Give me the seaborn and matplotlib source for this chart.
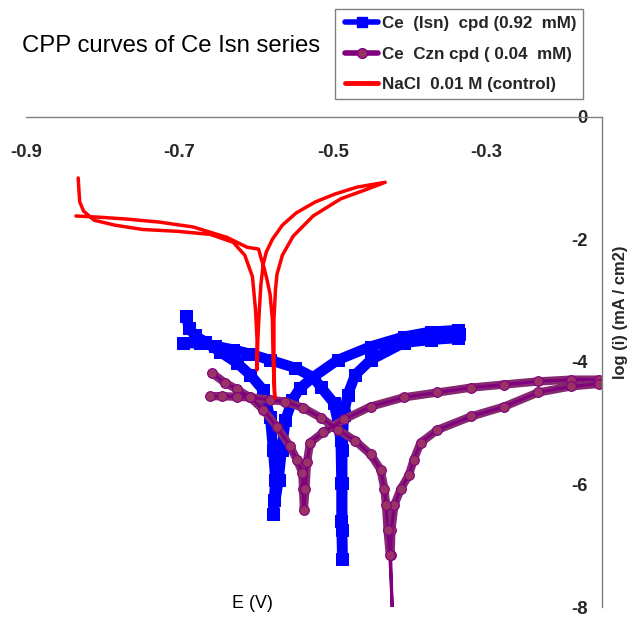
import matplotlib
matplotlib.use("Agg")
import matplotlib.pyplot as plt
from matplotlib.lines import Line2D
from matplotlib.patches import Rectangle
from matplotlib import font_manager
import seaborn as sns
import numpy as np

# ---------------- data ----------------
series_labels = ["Ce  (Isn)  cpd (0.92  mM)", "Ce  Czn cpd ( 0.04  mM)", "NaCl  0.01 M (control)"]

# NaCl 0.01 M (control)
red_E = [-0.832, -0.831, -0.830, -0.825, -0.811, -0.784, -0.748, -0.703, -0.660, -0.630,
         -0.615, -0.605, -0.601, -0.599, -0.599, -0.598, -0.596, -0.594, -0.591, -0.587,
         -0.579, -0.566, -0.548, -0.523, -0.497, -0.469, -0.432,
         -0.455, -0.490, -0.526, -0.552, -0.566, -0.573, -0.575, -0.577, -0.577, -0.576,
         -0.578, -0.579, -0.582, -0.586, -0.590, -0.594, -0.597, -0.612, -0.638, -0.682,
         -0.726, -0.769, -0.804, -0.835]
red_logi = [-1.00, -1.21, -1.39, -1.54, -1.69, -1.77, -1.84, -1.87, -1.92, -2.05,
            -2.26, -2.61, -3.15, -3.64, -4.13, -3.64, -3.15, -2.74, -2.41, -2.21,
            -2.00, -1.77, -1.57, -1.39, -1.26, -1.15, -1.07,
            -1.18, -1.34, -1.62, -1.95, -2.26, -2.57, -2.82, -3.31, -3.97, -4.59,
            -3.97, -3.31, -2.90, -2.66, -2.46, -2.30, -2.16, -2.13, -1.97, -1.80,
            -1.72, -1.67, -1.64, -1.62]

# Ce (Isn) cpd 0.92 mM
blue_E = [-0.691, -0.688, -0.680, -0.667, -0.647, -0.625, -0.608, -0.591, -0.582, -0.578,
          -0.575, -0.577, -0.578, -0.571, -0.567, -0.562, -0.553, -0.543, -0.526, -0.494,
          -0.451, -0.408, -0.373, -0.337, -0.336, -0.337, -0.373, -0.408, -0.451, -0.471,
          -0.481, -0.486, -0.488, -0.488, -0.488, -0.488, -0.489, -0.489, -0.490, -0.493,
          -0.499, -0.516, -0.526, -0.549, -0.582, -0.608, -0.630, -0.654, -0.673, -0.696]
blue_logi = [-3.26, -3.44, -3.57, -3.67, -3.84, -4.02, -4.21, -4.46, -4.90, -5.44,
             -5.93, -6.26, -6.48, -5.93, -5.44, -4.95, -4.62, -4.43, -4.25, -3.97,
             -3.75, -3.59, -3.51, -3.48, -3.54, -3.61, -3.64, -3.69, -3.97, -4.21,
             -4.54, -4.87, -5.44, -5.98, -6.75, -7.21, -6.59, -5.98, -5.28, -5.03,
             -4.67, -4.41, -4.25, -4.10, -3.97, -3.87, -3.80, -3.74, -3.70, -3.69]

# Ce Czn cpd 0.04 mM
purple_E = [-0.658, -0.641, -0.625, -0.608, -0.591, -0.573, -0.556, -0.547, -0.540, -0.539,
            -0.538, -0.536, -0.534, -0.530, -0.513, -0.486, -0.451, -0.408, -0.364, -0.320,
            -0.277, -0.233, -0.190, -0.154, -0.154, -0.190, -0.233, -0.277, -0.320, -0.364,
            -0.386, -0.395, -0.401, -0.412, -0.420, -0.424, -0.425, -0.423, -0.426, -0.429,
            -0.431, -0.433, -0.438, -0.451, -0.471, -0.493, -0.516, -0.539, -0.562, -0.582,
            -0.608, -0.625, -0.645, -0.660]
purple_logi = [-4.18, -4.34, -4.45, -4.58, -4.78, -5.06, -5.38, -5.60, -5.81, -6.08,
               -6.41, -6.08, -5.64, -5.32, -5.15, -4.94, -4.73, -4.58, -4.50, -4.42,
               -4.37, -4.32, -4.29, -4.29, -4.36, -4.40, -4.50, -4.73, -4.89, -5.11,
               -5.32, -5.60, -5.84, -6.08, -6.33, -6.74, -7.15, -8.00, -7.15, -6.74,
               -6.33, -6.08, -5.76, -5.51, -5.29, -5.11, -4.91, -4.75, -4.65, -4.62,
               -4.58, -4.57, -4.56, -4.56]

x_ticks = [-0.9, -0.7, -0.5, -0.3]
x_tick_labels = ["-0.9", "-0.7", "-0.5", "-0.3"]
y_ticks = [0, -2, -4, -6, -8]
y_tick_labels = ["0", "-2", "-4", "-6", "-8"]

# ---------------- style ----------------
sns.set_style("white")
names = {f.name for f in font_manager.fontManager.ttflist}
has_narrow = "Liberation Sans Narrow" in names
NARROW = "Liberation Sans Narrow" if has_narrow else "Liberation Sans"
plt.rcParams["font.family"] = ["Liberation Sans", "DejaVu Sans"]
plt.rcParams["axes.unicode_minus"] = False
k = 1.0 if has_narrow else 0.86

W, H = 632, 617
fig = plt.figure(figsize=(W / 100, H / 100), dpi=100)
ax_l, ax_r, ax_t, ax_b = 26.0, 601.7, 116.7, 607.0
ax = fig.add_axes([ax_l / W, 1 - ax_b / H, (ax_r - ax_l) / W, (ax_b - ax_t) / H])
ax.set_facecolor("white")

BLUE = "#0000FF"
PURPLE = "#800080"
PLUM = "#993366"
RED = "#FF0000"

# blue series: thick band + square markers
sns.lineplot(x=blue_E, y=blue_logi, sort=False, estimator=None, ax=ax, color=BLUE,
             linewidth=7.5, legend=False, solid_joinstyle="round", solid_capstyle="round")
sns.lineplot(x=blue_E, y=blue_logi, sort=False, estimator=None, ax=ax, color=BLUE,
             linewidth=2, marker="s", markersize=8, markeredgecolor=BLUE, legend=False)

# purple series: band (without the thin spike) + thin line + circles
p_E = np.array(purple_E)
p_I = np.array(purple_logi)
band = p_I > -7.5
sns.lineplot(x=p_E[band], y=p_I[band], sort=False, estimator=None, ax=ax, color="#862a70",
             linewidth=6, legend=False, solid_joinstyle="round", solid_capstyle="round")
sns.lineplot(x=purple_E, y=purple_logi, sort=False, estimator=None, ax=ax, color=PURPLE,
             linewidth=2.2, legend=False)
ax.plot(p_E[band], p_I[band], linestyle="none", marker="o", markersize=7,
        markerfacecolor=PLUM, markeredgecolor=PURPLE, markeredgewidth=0.8)

# red series
sns.lineplot(x=red_E, y=red_logi, sort=False, estimator=None, ax=ax, color=RED,
             linewidth=2.5, legend=False)

# axes
ax.set_xlim(-0.9, -0.15)
ax.set_ylim(-8, 0)
for s in ["top", "right"]:
    ax.spines[s].set_visible(False)
ax.spines["left"].set_position(("data", -0.15))
ax.spines["bottom"].set_position(("data", 0))
for s in ["left", "bottom"]:
    ax.spines[s].set_color("#808080")
    ax.spines[s].set_linewidth(1.0)
ax.set_xticks(x_ticks)
ax.set_xticklabels(x_tick_labels)
ax.set_yticks(y_ticks)
ax.set_yticklabels(y_tick_labels)
ax.tick_params(axis="both", direction="out", length=5, width=1, color="#808080")
ax.tick_params(axis="x", pad=15)
ax.tick_params(axis="y", pad=5)
for lab in ax.get_xticklabels() + ax.get_yticklabels():
    lab.set_fontfamily(NARROW)
    lab.set_fontweight("bold")
    lab.set_fontsize(15.5 * k)
ax.set_xlabel("")
ax.set_ylabel("")
ax.grid(False)

# texts
fig.text(21.7 / W, 1 - 46 / H, "CPP curves of Ce Isn series", ha="left", va="center",
         fontsize=17.2, fontfamily="Liberation Sans", color="black")
fig.text(252 / W, 1 - 603 / H, "E (V)", ha="center", va="center",
         fontsize=15 * k, fontfamily=NARROW, color="black")
fig.text(621 / W, 1 - 312 / H, "log (i) (mA / cm2)", ha="center", va="center",
         rotation=90, fontsize=13.5 * k + (0 if has_narrow else 0.3), fontweight="bold",
         fontfamily=NARROW)

# legend: frame drawn as its own box, entries placed inside
box_l, box_t, box_r, box_b = 335, 9, 583, 99
fig.patches.append(Rectangle((box_l / W, 1 - box_b / H), (box_r - box_l) / W,
                             (box_b - box_t) / H, transform=fig.transFigure,
                             facecolor="white", edgecolor="#808080", linewidth=1.0,
                             zorder=5))
handles = [
    Line2D([], [], color=BLUE, lw=4, marker="s", markersize=7),
    Line2D([], [], color=PURPLE, lw=4, marker="o", markersize=7,
           markerfacecolor=PLUM, markeredgecolor=PURPLE),
    Line2D([], [], color=RED, lw=3.5),
]
leg_fs = 14.2 * k
leg = fig.legend(handles, series_labels, loc="upper left",
                 bbox_to_anchor=(345 / W, 1 - 16 / H), frameon=False,
                 borderaxespad=0, borderpad=0,
                 handlelength=1.95, handletextpad=0.25, labelspacing=0.92,
                 prop={"family": NARROW, "weight": "bold", "size": leg_fs})
leg.set_zorder(6)

fig.savefig("out.png", dpi=100, facecolor="white")
